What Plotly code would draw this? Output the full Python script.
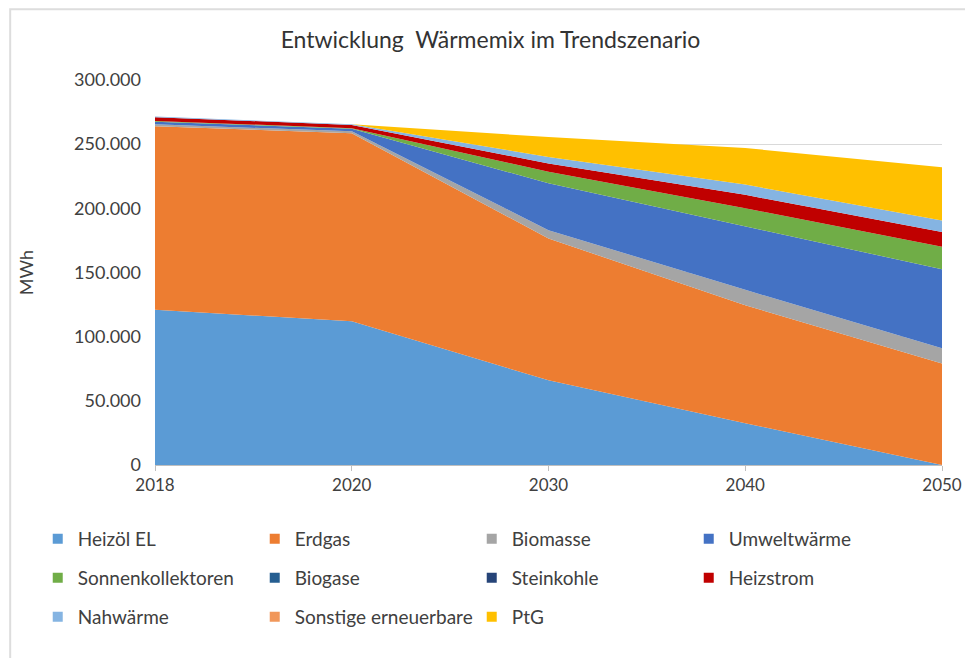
import plotly.graph_objects as go

years = ["2018", "2020", "2030", "2040", "2050"]

heizoel = [121000, 112000, 66000, 32500, 0]
erdgas = [143000, 146500, 110500, 92000, 79000]
biomasse = [1500, 1500, 6500, 12000, 12000]
umweltwaerme = [2000, 2000, 36500, 49500, 61500]
sonnenkollektoren = [500, 500, 9000, 14000, 17500]
biogase = [0, 0, 0, 0, 0]
steinkohle = [0, 0, 0, 0, 0]
heizstrom = [3000, 2500, 6500, 10500, 11500]
nahwaerme = [500, 500, 5000, 8000, 9000]
sonstige = [0, 0, 0, 0, 0]
ptg = [0, 0, 15500, 28500, 41500]

names = ["Heizöl EL", "Erdgas", "Biomasse", "Umweltwärme", "Sonnenkollektoren",
         "Biogase", "Steinkohle", "Heizstrom", "Nahwärme", "Sonstige erneuerbare", "PtG"]
series = [heizoel, erdgas, biomasse, umweltwaerme, sonnenkollektoren,
          biogase, steinkohle, heizstrom, nahwaerme, sonstige, ptg]
colors = ["#5B9BD5", "#ED7D31", "#A5A5A5", "#4472C4", "#70AD47",
          "#255E91", "#264478", "#C00000", "#85B4E2", "#F1975A", "#FFC000"]

FONT = "Lato"
TXT = "#404040"

fig = go.Figure()

# stacked areas (legend drawn with square markers below)
for name, vals, col in zip(names, series, colors):
    fig.add_trace(go.Scatter(x=years, y=vals, name=name, mode="lines",
                             stackgroup="one", line=dict(width=0, color=col),
                             fillcolor=col, showlegend=False))

# legend entries: 4 per row, one legend per row
legend_ids = ["legend", "legend2", "legend3"]
for i, (name, col) in enumerate(zip(names, colors)):
    fig.add_trace(go.Scatter(x=[None], y=[None], name=name, mode="markers",
                             marker=dict(symbol="square", size=10, color=col),
                             legend=legend_ids[i // 4]))

def leg(y):
    return dict(orientation="h", x=-0.149, xanchor="left", y=y, yanchor="middle",
                traceorder="normal", entrywidth=172, entrywidthmode="pixels",
                itemwidth=30, font=dict(family=FONT, size=19, color=TXT),
                bgcolor="rgba(0,0,0,0)")

# page body has an 8px margin, so the figure is 8px smaller than the window
fig.update_layout(
    width=965, height=650,
    margin=dict(l=147, r=31, t=72, b=193),
    paper_bgcolor="white", plot_bgcolor="white",
    separators=",.",
    font=dict(family=FONT, size=17, color=TXT),
    title=dict(text="Entwicklung  Wärmemix im Trendszenario", xref="container", x=0.5,
               xanchor="center", y=0.951, yanchor="middle",
               font=dict(family=FONT, size=23, color="#333333")),
    legend=leg(-0.192), legend2=leg(-0.2935), legend3=leg(-0.3948),
    xaxis=dict(type="category", range=[0, 4], showgrid=False, showline=True,
               linecolor="#BFBFBF", linewidth=1, ticks="outside", ticklen=5,
               tickcolor="#BFBFBF", tickfont=dict(size=17, color=TXT)),
    yaxis=dict(range=[0, 300000], dtick=50000, tickformat=",d", showgrid=True,
               gridcolor="#D9D9D9", zeroline=False, showline=False,
               ticklabelstandoff=13, tickfont=dict(size=18, color=TXT),
               title=dict(text="MWh", standoff=35, font=dict(size=18, color=TXT))),
    # light frame around the chart
    shapes=[dict(type="rect", xref="paper", yref="paper", x0=-0.184, x1=1.2,
                 y0=-0.6, y1=1.184, line=dict(color="#DDDDDD", width=2),
                 fillcolor="rgba(0,0,0,0)", layer="below")],
)

fig.write_html("out.html")
